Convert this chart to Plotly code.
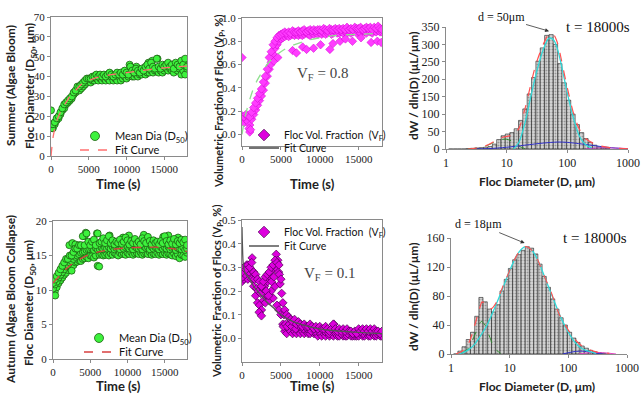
import numpy as np
import plotly.graph_objects as go

W, H = 643, 394

# ---------------- data ----------------
TIME_GRID = [0, 250, 500, 750, 1000, 1250, 1500, 1750, 2000, 2250,
             2500, 2750, 3000, 3250, 3500, 3750, 4000, 4250, 4500, 4750,
             5000, 5250, 5500, 5750, 6000, 6250, 6500, 6750, 7000, 7250,
             7500, 7750, 8000, 8250, 8500, 8750, 9000, 9250, 9500, 9750,
             10000, 10250, 10500, 10750, 11000, 11250, 11500, 11750, 12000, 12250,
             12500, 12750, 13000, 13250, 13500, 13750, 14000, 14250, 14500, 14750,
             15000, 15250, 15500, 15750, 16000, 16250, 16500, 16750, 17000, 17250,
             17500, 17750, 18000]
TIME_TICKS = [0, 5000, 10000, 15000]
TIME_TICK_LABELS = ["0", "5000", "10000", "15000"]

# Summer mean diameter D50 (um)
SUMMER_D50_UPPER = [16, 16, 17, 19, 20, 22, 24, 26, 27, 28,
                    29, 30, 32, 33, 35, 35, 36, 37, 38, 39,
                    39, 39, 40, 40, 41, 40, 41, 40, 41, 40,
                    41, 42, 41, 40, 41, 42, 41, 42, 41, 43,
                    42, 41, 45, 43, 42, 44, 43, 42, 44, 43,
                    45, 46, 44, 47, 45, 44, 49, 45, 44, 46,
                    45, 46, 47, 45, 46, 44, 47, 46, 45, 48,
                    46, 49, 45]
SUMMER_D50_LOWER = [15, 14, 16, 18, 19, 21, 23, 24, 26, 27,
                    28, 29, 31, 32, 33, 33, 34, 35, 36, 37,
                    38, 37, 38, 38, 39, 38, 39, 38, 39, 38,
                    39, 38, 40, 38, 39, 38, 40, 38, 39, 40,
                    39, 40, 41, 40, 40, 41, 40, 41, 41, 42,
                    41, 42, 42, 43, 42, 43, 43, 42, 43, 42,
                    43, 44, 43, 44, 43, 42, 44, 43, 44, 41,
                    43, 41, 44]
SUMMER_D50_EXTRA_T = [0, 150, 10400, 11300, 12900, 13400, 14100, 17600, 17900]
SUMMER_D50_EXTRA = [23, 14, 46, 45, 47, 48, 49, 47, 48]
SUMMER_FIT_T = [0, 300, 700, 1000, 1500, 2000, 2500, 3000, 3500, 4000, 5000, 6000,
                7000, 8000, 10000, 12000, 14000, 16000, 18000]
SUMMER_FIT = [0, 10, 17, 20, 24, 27, 30, 32, 34, 36, 38, 39.5,
              40.3, 41, 42, 43, 44, 44.7, 45.3]

# Autumn mean diameter D50 (um)
AUTUMN_D50_UPPER = [11, 11.5, 12, 12.5, 13, 13.5, 14, 14.5, 14.5, 15,
                    15, 15.5, 16, 16, 16.5, 16.5, 17.8, 16.5, 18.2, 17,
                    16.5, 17, 17.3, 16.5, 18.2, 16.8, 17, 17.5, 16.8, 17.2,
                    17.8, 16.8, 17.2, 16.6, 17, 16.8, 17.3, 16.7, 17, 17.6,
                    17.2, 16.6, 17.1, 16.8, 17.4, 16.7, 17, 16.6, 17.5, 17.1,
                    16.8, 17.7, 17.1, 16.6, 17.2, 16.8, 17, 16.6, 17.1, 16.8,
                    17.8, 17.1, 16.6, 17.2, 16.7, 17.4, 16.6, 17.1, 16.8, 17.3,
                    16.9, 17.3, 16.5]
AUTUMN_D50_MID = [10.2, 10.8, 11.2, 11.8, 12.2, 12.6, 13, 13.4, 13.6, 14,
                  14.2, 14.5, 14.8, 15, 15.2, 15.4, 15.5, 15.6, 15.8, 15.9,
                  15.9, 16, 15.8, 16.1, 15.9, 16, 16.2, 15.9, 16.1, 16,
                  16.2, 16, 16.3, 15.9, 16.1, 16.2, 15.9, 16.3, 16, 16.2,
                  16.3, 16, 16.2, 15.9, 16.3, 16.1, 16, 16.2, 15.9, 16.3,
                  16.1, 16.2, 15.9, 16.3, 16, 16.2, 16.1, 15.9, 16.2, 16,
                  16.2, 16, 16.3, 15.9, 16.1, 16.2, 15.8, 16.1, 16, 15.9,
                  16.2, 15.8, 16]
AUTUMN_D50_LOWER = [9.3, 9.8, 10.4, 11, 11.4, 11.8, 12.2, 12.5, 12.9, 13.2,
                    13.4, 13.6, 14, 14.1, 14.3, 14.2, 14.5, 14.6, 14.8, 14.6,
                    15, 14.9, 14.7, 15, 13.5, 15.1, 15.2, 15, 15.1, 15.3,
                    15, 15.3, 15.1, 15.4, 15.2, 15, 15.4, 15.2, 15.3, 15.1,
                    15.4, 15.2, 15.5, 15.1, 15.3, 15.4, 15.2, 15.5, 15.1, 15.3,
                    15.4, 15.2, 15.5, 15.1, 15.3, 15.2, 15.4, 15.1, 15.3, 15.2,
                    15.4, 15.1, 15.3, 15.2, 15, 15.3, 14.9, 15.2, 14.6, 15.1,
                    15, 14.8, 15.4]
AUTUMN_D50_EXTRA_T = [2200, 2600, 3000, 4200, 4400, 5900, 7600, 9400, 10200, 12200,
                      14800, 15500, 16800, 300, 2500, 6200]
AUTUMN_D50_EXTRA = [16.5, 16.8, 16.6, 17.8, 18.3, 18.2, 17.9, 17.6, 17.9, 18,
                    17.7, 17.9, 17.6, 9.2, 12.8, 13.4]
AUTUMN_FIT_T = [0, 1000, 2000, 3000, 4000, 5000, 6000, 8000, 10000, 12000, 14000, 16000, 18000]
AUTUMN_FIT = [11, 12.2, 13.3, 14.1, 14.7, 15.2, 15.5, 15.9, 16.1, 16.2, 16.2, 16.0, 15.6]

# Summer floc volume fraction VF (%)
SUMMER_VF_UPPER = [0.16, 0.15, 0.17, 0.16, 0.15, 0.19, 0.23, 0.27, 0.31, 0.35,
                   0.39, 0.45, 0.5, 0.56, 0.66, 0.71, 0.77, 0.8, 0.83, 0.85,
                   0.86, 0.87, 0.88, 0.87, 0.88, 0.87, 0.89, 0.88, 0.88, 0.89,
                   0.88, 0.89, 0.9, 0.88, 0.89, 0.9, 0.89, 0.9, 0.89, 0.9,
                   0.9, 0.89, 0.91, 0.9, 0.89, 0.91, 0.9, 0.9, 0.91, 0.9,
                   0.91, 0.9, 0.91, 0.9, 0.92, 0.9, 0.91, 0.9, 0.92, 0.91,
                   0.91, 0.92, 0.9, 0.91, 0.92, 0.91, 0.92, 0.9, 0.92, 0.91,
                   0.93, 0.91, 0.9]
SUMMER_VF_LOWER = [0.12, 0.1, 0.13, 0.11, 0.08, 0.13, 0.17, 0.21, 0.25, 0.29,
                   0.33, 0.38, 0.44, 0.5, 0.56, 0.62, 0.69, 0.74, 0.77, 0.8,
                   0.82, 0.83, 0.84, 0.85, 0.84, 0.85, 0.86, 0.85, 0.86, 0.85,
                   0.86, 0.85, 0.86, 0.87, 0.86, 0.85, 0.87, 0.86, 0.87, 0.86,
                   0.87, 0.86, 0.87, 0.86, 0.87, 0.88, 0.86, 0.87, 0.88, 0.87,
                   0.87, 0.88, 0.87, 0.88, 0.87, 0.88, 0.87, 0.88, 0.89, 0.87,
                   0.88, 0.87, 0.89, 0.88, 0.87, 0.89, 0.88, 0.87, 0.89, 0.88,
                   0.89, 0.88, 0.88]
SUMMER_VF_EXTRA_T = [0, 900, 1000, 1100, 3700, 4100, 4600, 6500, 7000, 7800, 8300,
                     9200, 10100, 11300, 11700, 12600, 13300, 14200, 15300, 16600, 17400, 17900]
SUMMER_VF_EXTRA = [0.66, 0.05, 0.02, 0.04, 0.6, 0.63, 0.66, 0.72, 0.7, 0.75, 0.73,
                   0.74, 0.77, 0.73, 0.78, 0.8, 0.82, 0.8, 0.83, 0.79, 0.8, 0.79]
SUMMER_VF_FIT_T = [0, 250, 500, 1000, 1500, 2000, 3000, 4000, 5000, 6000, 8000,
                   10000, 12000, 15000, 18000]
SUMMER_VF_FIT = [0, 0.10, 0.18, 0.30, 0.40, 0.47, 0.58, 0.66, 0.71, 0.75, 0.80,
                 0.83, 0.85, 0.86, 0.87]

# Autumn floc volume fraction VF (%)
AUTUMN_VF_UPPER = [0.28, 0.3, 0.29, 0.31, 0.3, 0.32, 0.28, 0.27, 0.25, 0.24,
                   0.22, 0.24, 0.26, 0.27, 0.28, 0.3, 0.31, 0.33, 0.32, 0.31,
                   0.25, 0.15, 0.12, 0.1, 0.09, 0.08, 0.07, 0.08, 0.06, 0.07,
                   0.06, 0.05, 0.06, 0.05, 0.05, 0.06, 0.05, 0.04, 0.05, 0.04,
                   0.05, 0.04, 0.04, 0.05, 0.04, 0.03, 0.04, 0.06, 0.04, 0.03,
                   0.04, 0.03, 0.04, 0.03, 0.04, 0.03, 0.03, 0.02, 0.03, 0.02,
                   0.04, 0.03, 0.04, 0.03, 0.04, 0.03, 0.04, 0.03, 0.04, 0.03,
                   0.03, 0.02, 0.03]
AUTUMN_VF_LOWER = [0.24, 0.25, 0.26, 0.25, 0.27, 0.25, 0.22, 0.18, 0.15, 0.14,
                   0.12, 0.16, 0.15, 0.18, 0.16, 0.2, 0.17, 0.22, 0.14, 0.12,
                   0.1, 0.06, 0.03, 0.02, 0.04, 0.03, 0.02, 0.03, 0.02, 0.03,
                   0.02, 0.03, 0.02, 0.03, 0.02, 0.02, 0.03, 0.02, 0.02, 0.01,
                   0.02, 0.01, 0.02, 0.01, 0.02, 0.01, 0.02, 0.01, 0.02, 0.01,
                   0.01, 0.02, 0.01, 0.01, 0.01, 0.02, 0.01, 0.01, 0.01, 0.01,
                   0.01, 0.02, 0.01, 0.01, 0.02, 0.01, 0.01, 0.02, 0.01, 0.01,
                   0.02, 0.01, 0.01]
AUTUMN_VF_EXTRA_T = [100, 400, 600, 900, 1200, 1300, 1600, 1900, 2100, 2200,
                     2400, 2500, 2700, 2900, 3100, 3300, 3400, 3600, 3800, 3900,
                     4100, 4300, 4400, 4600, 4700, 4800, 4900, 5100, 5300, 5400,
                     5600, 5800, 6100, 6400, 6900, 7400, 7900, 8400, 8900, 9400,
                     9900, 10600, 11200, 11800, 12700, 13600, 14600, 15600, 16400, 17300]
AUTUMN_VF_EXTRA = [0.26, 0.27, 0.31, 0.28, 0.29, 0.34, 0.25, 0.21, 0.2, 0.11,
                   0.19, 0.095, 0.21, 0.22, 0.2, 0.24, 0.18, 0.26, 0.24, 0.29,
                   0.26, 0.3, 0.355, 0.33, 0.28, 0.27, 0.23, 0.19, 0.05, 0.1,
                   0.06, 0.05, 0.06, 0.05, 0.04, 0.05, 0.04, 0.04, 0.03, 0.03,
                   0.03, 0.03, 0.02, 0.06, 0.02, 0.02, 0.02, 0.02, 0.03, 0.02]
AUTUMN_VF_FIT_T = [0, 50, 200, 500, 1000, 1500, 2000, 3000, 4000, 5000, 6000, 7000,
                   8000, 10000, 12000, 14000, 16000, 18000]
AUTUMN_VF_FIT = [0.47, 0.40, 0.30, 0.27, 0.25, 0.22, 0.20, 0.16, 0.13, 0.10, 0.08, 0.065,
                 0.055, 0.04, 0.032, 0.027, 0.023, 0.02]

# Size distributions at t = 18000 s (bin centres in um, dW/dln(D) in uL/um)
SIZE_BINS = [1.20, 1.42, 1.67, 1.97, 2.33, 2.75, 3.24, 3.83, 4.52, 5.33,
             6.29, 7.42, 8.76, 10.3, 12.2, 14.4, 17.0, 20.0, 23.6, 27.9,
             32.9, 38.8, 45.8, 54.1, 63.8, 75.3, 88.8, 105, 124, 146,
             172, 203, 240, 283, 334, 394, 465]
SUMMER_PSD = [0, 0, 0, 0, 1, 2, 3, 4, 5, 7,
              14, 27, 38, 43, 47, 58, 82, 115, 158, 205,
              252, 290, 326, 328, 300, 245, 190, 140, 100, 70,
              47, 30, 19, 11, 6, 3, 1]
AUTUMN_PSD = [0, 4, 10, 20, 30, 52, 78, 72, 62, 58,
              68, 87, 103, 118, 130, 137, 143, 148, 146, 138,
              124, 107, 92, 76, 62, 50, 40, 30, 22, 16,
              11, 8, 5, 3, 2, 1, 0]
TICK_D = [1, 10, 100, 1000]
TICK_D_LABELS = ["1", "10", "100", "1000"]

# fitted modes
S_TOTAL_D = [2.3, 4, 6, 8, 10, 13, 16, 20, 25, 30, 40, 50, 60, 70, 80, 100, 130, 160, 200, 300, 500, 1000]
S_TOTAL = [0, 6, 20, 32, 36, 42, 60, 115, 185, 240, 300, 330, 327, 300, 255, 175, 95, 55, 30, 12, 4, 0.5]
S_MAIN_D = [13, 16, 20, 25, 30, 40, 50, 60, 70, 80, 100, 130, 160, 200, 250]
S_MAIN = [0, 20, 75, 150, 210, 285, 318, 312, 282, 240, 160, 80, 35, 12, 3]
S_SMALL_D = [2.3, 4, 6, 8, 10, 13, 16, 20]
S_SMALL = [0, 5, 18, 27, 28, 20, 8, 1]
S_BROAD_D = [3, 5, 10, 20, 40, 70, 100, 200, 400, 700, 1000]
S_BROAD = [0, 1, 5, 11, 17, 20, 19, 13, 6, 2, 0.5]
S_COARSE_D = [200, 300, 500, 800, 1000]
S_COARSE = [0, 3, 3, 2, 1]

A_TOTAL_D = [1.2, 1.5, 2, 2.5, 3, 3.4, 3.9, 4.5, 5, 6, 8, 10, 13, 16, 19, 24, 30, 40, 50, 70, 100, 150, 200, 300, 500]
A_TOTAL = [0, 3, 15, 38, 60, 72, 68, 63, 63, 72, 97, 115, 135, 145, 148, 143, 130, 105, 87, 55, 33, 15, 8, 3, 1]
A_MAIN_D = [1.2, 1.6, 2, 2.5, 3, 4, 5, 6, 8, 10, 13, 16, 19, 24, 30, 40, 50, 65, 80, 100, 130, 160, 200, 300]
A_MAIN = [0, 2, 6, 13, 22, 38, 55, 70, 95, 115, 135, 145, 148, 143, 130, 105, 85, 62, 45, 30, 16, 9, 5, 1]
A_SMALL_D = [1.5, 2, 2.5, 3, 3.3, 3.8, 4.5, 5.5, 7]
A_SMALL = [1, 8, 25, 40, 45, 40, 25, 8, 1]
A_BROAD_D = [80, 120, 160, 220, 300, 400]
A_BROAD = [0, 3, 4, 3, 1, 0]
A_COARSE_D = [150, 250, 350, 500, 650]
A_COARSE = [0, 2, 2, 1, 0]

for a, b in [(TIME_GRID, SUMMER_D50_UPPER), (TIME_GRID, SUMMER_D50_LOWER),
             (TIME_GRID, AUTUMN_D50_UPPER), (TIME_GRID, AUTUMN_D50_MID), (TIME_GRID, AUTUMN_D50_LOWER),
             (TIME_GRID, SUMMER_VF_UPPER), (TIME_GRID, SUMMER_VF_LOWER),
             (TIME_GRID, AUTUMN_VF_UPPER), (TIME_GRID, AUTUMN_VF_LOWER),
             (AUTUMN_VF_EXTRA_T, AUTUMN_VF_EXTRA), (SUMMER_VF_EXTRA_T, SUMMER_VF_EXTRA),
             (AUTUMN_D50_EXTRA_T, AUTUMN_D50_EXTRA), (SUMMER_D50_EXTRA_T, SUMMER_D50_EXTRA),
             (SIZE_BINS, SUMMER_PSD), (SIZE_BINS, AUTUMN_PSD)]:
    assert len(a) == len(b), (len(a), len(b))

# ---------------- styling helpers ----------------
SANS = "Lato, 'Open Sans', sans-serif"
SERIF = "'Liberation Serif', 'Times New Roman', serif"
TICKFONT = dict(family=SERIF, size=11, color="#222")


def dom_x(a, b):
    return [a / W, b / W]


def dom_y(top, bottom):
    return [1 - bottom / H, 1 - top / H]


GREEN_MARK = dict(symbol="circle", size=7, color="#3df23d", line=dict(color="#1d5e12", width=0.8))
PINK_MARK_TOP = dict(symbol="diamond", size=6.5, color="#ff3cff", line=dict(color="#d000d0", width=0.5))
PINK_MARK_BOT = dict(symbol="diamond", size=6.5, color="#dd00dd", line=dict(color="#4a0050", width=0.7))

fig = go.Figure()


def add_scatter(x, y, ax, marker, name=None, legend=None):
    fig.add_trace(go.Scatter(x=x, y=y, mode="markers", marker=marker,
                             xaxis="x" + ax, yaxis="y" + ax,
                             name=name or "", showlegend=name is not None,
                             legend=legend))


def add_line(x, y, ax, color, dash="solid", width=1.2, name=None, legend=None, logx=False):
    xx = np.log10(x) if logx else x
    fig.add_trace(go.Scatter(x=xx, y=y, mode="lines",
                             line=dict(color=color, dash=dash, width=width, shape="spline", smoothing=0.8),
                             xaxis="x" + ax, yaxis="y" + ax,
                             name=name or "", showlegend=name is not None,
                             legend=legend))


LEGEND_MARK_GREEN = dict(GREEN_MARK, size=9)
LEGEND_MARK_PINK = dict(PINK_MARK_BOT, size=9)

# --- Summer D50 (axis 1) ---
add_scatter(TIME_GRID, SUMMER_D50_LOWER, "", GREEN_MARK)
add_scatter(SUMMER_D50_EXTRA_T, SUMMER_D50_EXTRA, "", GREEN_MARK)
add_scatter(TIME_GRID, SUMMER_D50_UPPER, "", GREEN_MARK)
add_line(SUMMER_FIT_T, SUMMER_FIT, "", "#ff7070", dash="dash", width=1.3, name="Fit Curve", legend="legend3")
add_scatter([None], [None], "", LEGEND_MARK_GREEN, name="Mean Dia (D<sub>50</sub>)", legend="legend2")

# --- Summer VF (axis 2) ---
add_scatter(TIME_GRID, SUMMER_VF_LOWER, "2", PINK_MARK_TOP)
add_scatter(SUMMER_VF_EXTRA_T, SUMMER_VF_EXTRA, "2", PINK_MARK_TOP)
add_scatter(TIME_GRID, SUMMER_VF_UPPER, "2", PINK_MARK_TOP)
add_line(SUMMER_VF_FIT_T, SUMMER_VF_FIT, "2", "#8fe08f", dash="dash", width=1.3)
add_scatter([None], [None], "2", LEGEND_MARK_PINK, name="Floc Vol. Fraction  (V<sub>F</sub>)", legend="legend4")
fig.add_trace(go.Scatter(x=[None], y=[None], mode="lines", line=dict(color="#444", width=1.5),
                         xaxis="x2", yaxis="y2", name="Fit Curve", legend="legend5"))

# --- Summer PSD (axis 3) ---
BAR_MARKER = dict(color="#c4c4c4", line=dict(color="#222", width=0.6),
                  pattern=dict(shape=".", fgcolor="#555", bgcolor="#d6d6d6", size=3, solidity=0.35))
fig.add_trace(go.Bar(x=np.log10(SIZE_BINS), y=SUMMER_PSD, marker=BAR_MARKER,
                     xaxis="x3", yaxis="y3", showlegend=False))
add_line(S_SMALL_D, S_SMALL, "3", "#2e8b2e", dash="dash", width=1, logx=True)
add_line(S_BROAD_D, S_BROAD, "3", "#3030c8", width=1, logx=True)
add_line(S_COARSE_D, S_COARSE, "3", "#c040c0", width=1, logx=True)
add_line(S_MAIN_D, S_MAIN, "3", "#30d8d8", width=1.3, logx=True)
add_line(S_TOTAL_D, S_TOTAL, "3", "#ff5050", dash="dash", width=1.2, logx=True)

# --- Autumn D50 (axis 4) ---
add_scatter(TIME_GRID, AUTUMN_D50_LOWER, "4", GREEN_MARK)
add_scatter(TIME_GRID, AUTUMN_D50_MID, "4", GREEN_MARK)
add_scatter(AUTUMN_D50_EXTRA_T, AUTUMN_D50_EXTRA, "4", GREEN_MARK)
add_scatter(TIME_GRID, AUTUMN_D50_UPPER, "4", GREEN_MARK)
add_line(AUTUMN_FIT_T, AUTUMN_FIT, "4", "#d84040", dash="dash", width=1.3, name="Fit Curve", legend="legend7")
add_scatter([None], [None], "4", LEGEND_MARK_GREEN, name="Mean Dia (D<sub>50</sub>)", legend="legend6")

# --- Autumn VF (axis 5) ---
add_scatter(TIME_GRID, AUTUMN_VF_LOWER, "5", PINK_MARK_BOT)
add_scatter(AUTUMN_VF_EXTRA_T, AUTUMN_VF_EXTRA, "5", PINK_MARK_BOT)
add_scatter(TIME_GRID, AUTUMN_VF_UPPER, "5", PINK_MARK_BOT)
add_line(AUTUMN_VF_FIT_T, AUTUMN_VF_FIT, "5", "#555555", width=1.3, name="Fit Curve", legend="legend9")
add_scatter([None], [None], "5", LEGEND_MARK_PINK, name="Floc Vol. Fraction  (V<sub>F</sub>)", legend="legend8")

# --- Autumn PSD (axis 6) ---
fig.add_trace(go.Bar(x=np.log10(SIZE_BINS), y=AUTUMN_PSD, marker=BAR_MARKER,
                     xaxis="x6", yaxis="y6", showlegend=False))
add_line(A_SMALL_D, A_SMALL, "6", "#2e8b2e", dash="dash", width=1, logx=True)
add_line(A_BROAD_D, A_BROAD, "6", "#3030c8", width=1, logx=True)
add_line(A_COARSE_D, A_COARSE, "6", "#e040c0", width=1, logx=True)
add_line(A_MAIN_D, A_MAIN, "6", "#30d8d8", width=1.3, logx=True)
add_line(A_TOTAL_D, A_TOTAL, "6", "#ff5050", dash="dash", width=1.2, logx=True)

# ---------------- axes ----------------
BOX = dict(showline=True, linecolor="#8a8a8a", linewidth=1, mirror=True, ticks="outside",
           ticklen=3, tickcolor="#8a8a8a", showgrid=False, zeroline=False, tickfont=TICKFONT,
           automargin=False)
OPEN = dict(showline=True, linecolor="#8a8a8a", linewidth=1, mirror=False, ticks="outside",
            ticklen=3, tickcolor="#8a8a8a", showgrid=False, zeroline=False,
            tickfont=dict(family=SERIF, size=12, color="#222"), automargin=False)
TIME_AX = dict(range=[0, 18000], tickvals=TIME_TICKS, ticktext=TIME_TICK_LABELS)
LOG_AX = dict(range=[0, 3], tickvals=np.log10(TICK_D), ticktext=TICK_D_LABELS)

fig.update_layout(
    xaxis=dict(domain=dom_x(51, 187), anchor="y", **TIME_AX, **BOX),
    yaxis=dict(domain=dom_y(17, 156), anchor="x", range=[0, 70], dtick=10, **BOX),
    xaxis2=dict(domain=dom_x(242, 382), anchor="y2", **TIME_AX, **BOX),
    yaxis2=dict(domain=dom_y(18, 146), anchor="x2", range=[-0.1, 1.0],
                tickvals=[0, 0.2, 0.4, 0.6, 0.8, 1.0], tickformat=".1f", **BOX),
    xaxis3=dict(domain=dom_x(446, 628), anchor="y3", **LOG_AX, **OPEN),
    yaxis3=dict(domain=dom_y(27, 149), anchor="x3", range=[0, 350], dtick=50, **OPEN),
    xaxis4=dict(domain=dom_x(53, 187), anchor="y4", **TIME_AX, **BOX),
    yaxis4=dict(domain=dom_y(221, 359), anchor="x4", range=[0, 20], dtick=5, **BOX),
    xaxis5=dict(domain=dom_x(242, 382), anchor="y5", **TIME_AX, **BOX),
    yaxis5=dict(domain=dom_y(220, 362), anchor="x5", range=[-0.1, 0.5],
                tickvals=[0, 0.1, 0.2, 0.3, 0.4, 0.5], tickformat=".1f", **BOX),
    xaxis6=dict(domain=dom_x(451, 627), anchor="y6", **LOG_AX, **OPEN),
    yaxis6=dict(domain=dom_y(238, 354), anchor="x6", range=[0, 160], dtick=40, **OPEN),
)


def leg(marker_x, row_y, size=11):
    return dict(x=(marker_x - 23) / W, y=1 - row_y / H, xanchor="left", yanchor="middle",
                bgcolor="rgba(0,0,0,0)", font=dict(family=SANS, size=size, color="#111"))


fig.update_layout(
    showlegend=True,
    legend2=leg(98, 136),
    legend3=leg(98, 150),
    legend4=leg(267, 135, 10.5),
    legend5=leg(267, 148, 10.5),
    legend6=leg(102, 338),
    legend7=leg(102, 352),
    legend8=leg(267, 232, 10.5),
    legend9=leg(267, 246, 10.5),
)

# ---------------- annotations ----------------
ann = []


def ptext(text, x, y, size=12, angle=0, font=None):
    ann.append(dict(text=text, x=x / W, y=1 - y / H, xref="paper", yref="paper",
                    showarrow=False, textangle=angle, xanchor="center", yanchor="middle",
                    font=font or dict(family=SANS, size=size, color="#222")))


ptext("<b>Time (s)</b>", 118, 184, 13)
ptext("<b>Time (s)</b>", 312, 184, 13)
ptext("<b>Floc Diameter (D, μm)</b>", 537, 182, 12)
ptext("<b>Time (s)</b>", 118, 386, 13)
ptext("<b>Time (s)</b>", 312, 386, 13)
ptext("<b>Floc Diameter (D, μm)</b>", 537, 386, 12)

ptext("<b>Summer (Algae Bloom)</b>", 10, 86, 12, -90)
ptext("<b>Floc Diameter (D<sub>50</sub>, μm)</b>", 30, 86, 12, -90)
ptext("<b>Autumn (Algae Bloom Collapse)</b>", 10, 300, 12, -90)
ptext("<b>Floc Diameter (D<sub>50</sub>, μm)</b>", 29, 303, 12, -90)
ptext("<b>Volumetric Fraction of Flocs (V<sub>P</sub>, %)</b>", 219, 102, 11, -90)
ptext("<b>Volumetric Fraction of Flocs (V<sub>P</sub>, %)</b>", 217, 292, 11, -90)
ptext("<b>dW / dln(D) (μL/μm)</b>", 413, 86, 12, -90)
ptext("<b>dW / dln(D) (μL/μm)</b>", 413, 297, 12, -90)

SERIF_BIG = dict(family=SERIF, size=15, color="#111")
ptext("t = 18000s", 598, 27, font=SERIF_BIG)
ptext("t = 18000s", 595, 238, font=SERIF_BIG)
ptext("V<sub>F</sub> = 0.8", 322, 74, font=dict(family=SERIF, size=15, color="#444"))
ptext("V<sub>F</sub> = 0.1", 329, 274, font=dict(family=SERIF, size=15, color="#444"))

ann.append(dict(x=np.log10(50), y=338, xref="x3", yref="y3", text="d = 50μm",
                showarrow=True, arrowhead=2, arrowsize=1, arrowwidth=0.8, arrowcolor="#333",
                ax=-48, ay=-14, font=dict(family=SERIF, size=12, color="#111")))
ann.append(dict(x=np.log10(18), y=153, xref="x6", yref="y6", text="d = 18μm",
                showarrow=True, arrowhead=2, arrowsize=1, arrowwidth=0.8, arrowcolor="#333",
                ax=-46, ay=-19, font=dict(family=SERIF, size=12, color="#111")))

fig.update_layout(
    annotations=ann,
    width=W, height=H, margin=dict(l=0, r=0, t=0, b=0, autoexpand=False),
    paper_bgcolor="white", plot_bgcolor="white",
    bargap=0,
)

fig.write_html("out.html",
               config={"displayModeBar": False, "staticPlot": True},
               post_script="document.body.style.margin='0';document.body.style.overflow='hidden';")
